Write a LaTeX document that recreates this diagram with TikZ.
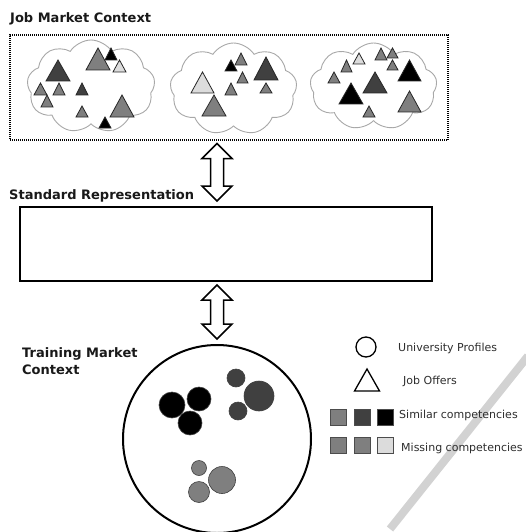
\documentclass[tikz,border=0pt]{standalone}
\usepackage{fontspec}
\setmainfont{DejaVu Sans}
\usetikzlibrary{shapes.symbols,calc}

\definecolor{cdark}{HTML}{404040}
\definecolor{cmid}{HTML}{7F7F7F}
\definecolor{clight}{HTML}{DCDCDC}
\definecolor{cloudline}{HTML}{A8A8A8}
\definecolor{inkgray}{HTML}{2E2E2E}
\definecolor{wmark}{HTML}{D2D2D2}

% triangle: x of apex, apex y, base y, half base width, fill colour
\newcommand\jtri[5]{%
  \filldraw[fill=#5, draw=black!85, line width=0.8pt, line join=miter]
    (#1,#2) -- (#1+#4,#3) -- (#1-#4,#3) -- cycle;}

% hollow double-headed block arrow between two points (top apex, bottom apex)
\newcommand\blockarrow[2]{%
  \draw[arrowbody] let \p1=(#1), \p2=(#2) in
    (\p1) -- (\x1+15pt,\y1-15pt) -- (\x1+6.5pt,\y1-15pt)
    -- (\x2+6.5pt,\y2+15pt) -- (\x2+15pt,\y2+15pt) -- (\p2)
    -- (\x2-15pt,\y2+15pt) -- (\x2-6.5pt,\y2+15pt)
    -- (\x1-6.5pt,\y1-15pt) -- (\x1-15pt,\y1-15pt) -- cycle;}

\begin{document}
\begin{tikzpicture}[x=1pt,y=-1pt,
  title/.style={font=\fontsize{13}{17}\selectfont\bfseries, text=black!90,
    inner sep=0pt, anchor=base west, align=left},
  legend/.style={font=\fontsize{11}{13}\selectfont, text=inkgray,
    inner sep=0pt, anchor=west},
  jobframe/.style={draw, line width=1.1pt, dash pattern=on 1pt off 1pt,
    inner sep=0pt, minimum width=438, minimum height=105},
  stdframe/.style={draw, line width=2pt, inner sep=0pt,
    minimum width=412, minimum height=74},
  trainframe/.style={circle, draw, line width=2pt, inner sep=0pt, minimum size=188},
  puff/.style={cloud, cloud puffs=9, cloud puff arc=115, cloud ignores aspect,
    draw=cloudline, line width=0.9pt, fill=white, inner sep=0pt},
  blob/.style={circle, draw=black!75, line width=0.6pt, inner sep=0pt},
  swatch/.style={draw=black!70, line width=0.6pt, inner sep=0pt, minimum size=16},
  arrowbody/.style={draw=black, fill=white, line width=1.5pt, line join=miter},
]
\useasboundingbox (0,0) rectangle (526,532);
\fill[white] (0,0) rectangle (526,532);

% diagonal stroke in the lower right
\draw[wmark, line width=8pt] (390,529) -- (528,356);

% ---------- job market ----------
\node[title] (jobtitle) at (10,22.5) {Job Market Context};
\node[jobframe] (jobbox) at (229,87.5) {};

\node[puff, minimum width=128, minimum height=93] (cl1) at (91,86.5) {};
\node[puff, minimum width=127, minimum height=92] (cl2) at (233.5,89) {};
\node[puff, minimum width=127, minimum height=87] (cl3) at (373.5,86.5) {};

% first cloud
\jtri{58}{60}{81}{12}{cdark}
\jtri{98}{48}{70}{12}{cmid}
\jtri{111}{48}{60}{6}{black}
\jtri{119.5}{60}{72}{6.5}{clight}
\jtri{40.5}{83}{95}{6.5}{cmid}
\jtri{59}{83}{95}{6}{cmid}
\jtri{82}{83}{95}{6}{cdark}
\jtri{47}{95}{107}{6}{cmid}
\jtri{82}{106}{117}{6}{cmid}
\jtri{122}{95}{117}{12}{cmid}
\jtri{105}{117}{128}{6}{black}

% second cloud
\jtri{202.5}{72}{93}{11.5}{clight}
\jtri{214}{95}{116}{12}{cmid}
\jtri{231}{60}{71}{6}{black}
\jtri{241}{53}{65}{6}{cmid}
\jtri{242.5}{72}{83}{5.5}{cmid}
\jtri{231}{83}{95}{6}{cmid}
\jtri{266}{57}{80}{12}{cdark}
\jtri{266}{83}{93}{6}{cmid}

% third cloud
\jtri{346.5}{60}{72}{5.5}{cmid}
\jtri{359}{53}{64}{6}{clight}
\jtri{381}{48}{60}{6}{cmid}
\jtri{392.5}{48}{58}{5.5}{cmid}
\jtri{392.5}{60}{70}{5.5}{cmid}
\jtri{409.5}{60}{81}{11.5}{black}
\jtri{334}{72}{83}{6}{cmid}
\jtri{375}{72}{93}{12}{cdark}
\jtri{351}{83}{104}{12}{black}
\jtri{409.5}{91}{112}{11.5}{cmid}
\jtri{369}{106}{117}{6}{cmid}

% ---------- standard representation ----------
\node[title] (stdtitle) at (9,199) {Standard Representation};
\node[stdframe] (stdbox) at (226,244) {};

% ---------- training market ----------
\node[title] (traintitle) at (22,374) {Training Market\\Context};
\node[trainframe] (train) at (217,439) {};

\node[blob, fill=black, minimum size=26] (k1) at (172,405) {};
\node[blob, fill=black, minimum size=24] (k2) at (199,399) {};
\node[blob, fill=black, minimum size=24] (k3) at (190,423) {};
\node[blob, fill=cdark, minimum size=18] (d1) at (236,378) {};
\node[blob, fill=cdark, minimum size=30] (d2) at (259,396) {};
\node[blob, fill=cdark, minimum size=18] (d3) at (238,411) {};
\node[blob, fill=cmid, minimum size=15] (m1) at (199,468) {};
\node[blob, fill=cmid, minimum size=27] (m2) at (222,480) {};
\node[blob, fill=cmid, minimum size=21] (m3) at (199,492) {};

% ---------- links between the layers ----------
\path (jobbox.south -| train.north) ++(0,3) coordinate (up1);
\path (stdbox.north -| train.north) ++(0,-5) coordinate (dn1);
\path (stdbox.south -| train.north) ++(0,3) coordinate (up2);
\path (train.north) ++(0,-5) coordinate (dn2);
\blockarrow{up1}{dn1}
\blockarrow{up2}{dn2}

% ---------- legend ----------
\node[circle, draw, line width=1.3pt, inner sep=0pt, minimum size=20] (lgcirc) at (366,347) {};
\node[legend] (lgprof) at (398,348) {University Profiles};
\draw[line width=1.3pt, line join=miter] (367,369) -- (379.5,391) -- (354.5,391) -- cycle;
\node[legend] (lgjob) at (403,381) {Job Offers};

\node[swatch, fill=cmid] (s1) at (338.5,417) {};
\node[swatch, fill=cdark] (s2) at (362,417) {};
\node[swatch, fill=black] (s3) at (385,417) {};
\node[legend] (lgsim) at (399,415) {Similar competencies};

\node[swatch, fill=cmid] (t1) at (338.5,445.5) {};
\node[swatch, fill=cmid] (t2) at (362,445.5) {};
\node[swatch, fill=clight] (t3) at (385,445.5) {};
\node[legend] (lgmis) at (401,448) {Missing competencies};
\end{tikzpicture}
\end{document}
